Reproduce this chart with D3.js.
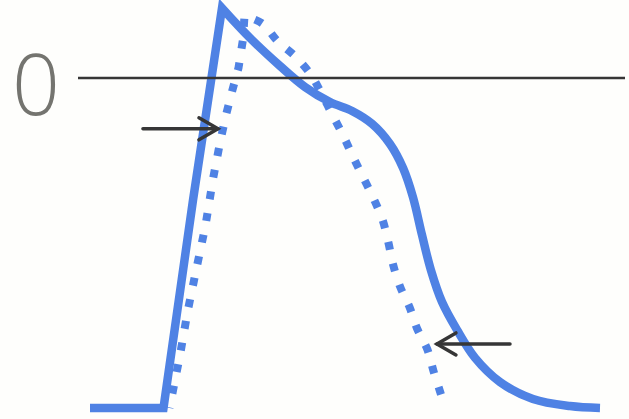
<!DOCTYPE html>
<html>
<head>
<meta charset="utf-8">
<script src="https://cdn.jsdelivr.net/npm/d3@7"></script>
<style>
  html, body { margin: 0; padding: 0; background: #fefefc; }
  svg { display: block; }
</style>
</head>
<body>
<svg id="chart" width="629" height="419"></svg>
<script>
// Action potential: time (ms) and membrane voltage (mV)
const solidTime = [0, 49, 68.7, 88, 106.7, 126.7, 143.3, 160, 174.7, 188, 200, 208.7, 215.3, 221.3, 227.3, 234.7, 244.7, 256.7, 273.3, 295.3, 320, 340];
const solidVolt = [-85, -85, -31.4, 18, 10.3, 3.1, -2.3, -6.2, -8.5, -11.8, -17, -23.2, -30.7, -40.4, -49.5, -57.7, -64.9, -72.1, -78.3, -82.7, -84.5, -85];
const solidPeakIndex = 3;

const dottedTime = [53, 60, 65, 71, 77, 82, 87, 91, 95, 99, 102, 103, 115, 125, 137, 147, 153, 161, 169, 175, 182, 189, 195, 199, 202, 207, 213, 218, 225, 229, 234];
const dottedVolt = [-85, -71.4, -60.3, -49, -38, -26, -16, -9, -3, 2.6, 10, 16, 14, 9.5, 5.5, 1, -3, -9, -15, -20, -25.5, -31, -36.5, -42.5, -48, -54, -59, -64.5, -70, -75.5, -81.5];
const dottedPeakIndex = 11;

const zeroLabel = ["0"];
const zeroValue = 0;

// arrows: [fromTime, toTime, voltage]
const arrows = [
  [35.3, 85.3, -13.1],
  [280, 231.3, -68.5]
];

const svg = d3.select("#chart");

const x = d3.scaleLinear().domain([0, 340]).range([90, 600]);
const y = d3.scaleLinear().domain([-85, 0]).range([408, 78]);

const blue = "#4f82e4";
const ink = "#363636";

const pts = (t, v) => t.map((d, i) => [d, v[i]]);
const solid = pts(solidTime, solidVolt);
const dotted = pts(dottedTime, dottedVolt);

const lineLin = d3.line().x(d => x(d[0])).y(d => y(d[1])).curve(d3.curveLinear);
const lineSmooth = d3.line().x(d => x(d[0])).y(d => y(d[1])).curve(d3.curveCatmullRom.alpha(0.5));

// upstroke drawn straight, repolarisation drawn smooth
function tracePath(data, peak) {
  const up = lineLin(data.slice(0, peak + 1));
  const down = lineSmooth(data.slice(peak)).replace(/^M[^CLZ]*/, "");
  return up + down;
}

const dash = 8, gap = 14;
const dottedPath = svg.append("path")
  .attr("d", tracePath(dotted, dottedPeakIndex))
  .attr("fill", "none")
  .attr("stroke", blue)
  .attr("stroke-width", 8)
  .attr("stroke-dasharray", `${dash},${gap}`)
  .attr("stroke-linecap", "butt");

// shift the pattern so the trace finishes on a whole dot
const len = dottedPath.node().getTotalLength();
const period = dash + gap;
dottedPath.attr("stroke-dashoffset", ((dash - len) % period + period) % period);

svg.append("path")
  .attr("d", tracePath(solid, solidPeakIndex))
  .attr("fill", "none")
  .attr("stroke", blue)
  .attr("stroke-width", 8.5)
  .attr("stroke-linejoin", "miter")
  .attr("stroke-linecap", "butt");

// zero reference line
svg.append("line")
  .attr("x1", 78).attr("x2", 625)
  .attr("y1", y(zeroValue)).attr("y2", y(zeroValue))
  .attr("stroke", ink)
  .attr("stroke-width", 2.5);

svg.append("text")
  .attr("x", 36)
  .attr("y", y(zeroValue) + 37)
  .attr("text-anchor", "middle")
  .attr("font-family", "'Open Sans', sans-serif")
  .attr("font-weight", 300)
  .attr("font-size", 84)
  .attr("fill", "#74746f")
  .text(zeroLabel[0]);

// arrows with open chevron heads
arrows.forEach(([t0, t1, v]) => {
  const x0 = x(t0), x1 = x(t1), yy = y(v);
  const dir = Math.sign(x1 - x0);
  const g = svg.append("g")
    .attr("stroke", ink)
    .attr("stroke-width", 3.5)
    .attr("fill", "none")
    .attr("stroke-linecap", "round");
  g.append("line").attr("x1", x0).attr("y1", yy).attr("x2", x1).attr("y2", yy);
  g.append("path")
    .attr("d", `M${x1 - dir * 19},${yy - 11}L${x1},${yy}L${x1 - dir * 19},${yy + 11}`);
});
</script>
</body>
</html>
